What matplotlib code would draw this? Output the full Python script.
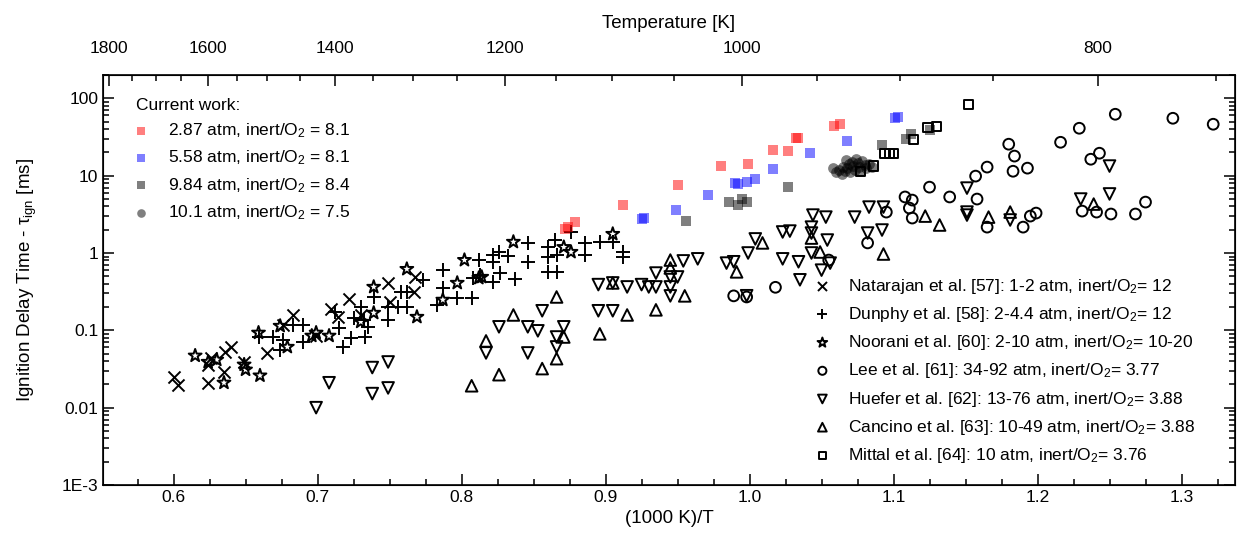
import numpy as np
import matplotlib.pyplot as plt
from matplotlib.ticker import FixedLocator, FixedFormatter, NullFormatter, LogLocator

plt.rcParams['font.family'] = ['Liberation Sans', 'DejaVu Sans']
plt.rcParams['mathtext.default'] = 'regular'

# ---- current work ----
red_x = [0.872, 0.874, 0.879, 0.912, 0.950, 0.980, 0.999, 1.016, 1.027, 1.032, 1.034, 1.059, 1.063]
red_y = [2.05, 2.16, 2.51, 4.16, 7.5, 13.3, 14.1, 21.3, 20.7, 30.5, 30.5, 43.5, 46.2]

blue_x = [0.925, 0.927, 0.949, 0.971, 0.990, 0.992, 0.998, 1.004, 1.016, 1.042, 1.068, 1.101, 1.103]
blue_y = [2.75, 2.85, 3.59, 5.6, 8.1, 7.8, 8.24, 9.0, 12.1, 19.5, 27.9, 56.0, 58.0]

grey_x = [0.956, 0.986, 0.992, 0.995, 0.998, 1.027, 1.092, 1.109, 1.112, 1.125]
grey_y = [2.59, 4.55, 4.16, 4.98, 4.55, 7.1, 24.8, 29.6, 34.3, 38.7]

dark_x = [1.058, 1.060, 1.062, 1.064, 1.065, 1.066, 1.067, 1.068, 1.069, 1.070, 1.071, 1.072,
          1.073, 1.074, 1.075, 1.076, 1.077, 1.078, 1.080, 1.081, 1.083, 1.085]
dark_y = [12.5, 11.0, 12.0, 10.5, 13.0, 11.5, 16.0, 12.5, 14.0, 11.2, 15.0, 13.5,
          12.0, 16.5, 14.5, 12.8, 11.5, 15.5, 13.8, 12.5, 14.2, 13.0]

# ---- literature ----
nat_x = [0.600, 0.603, 0.624, 0.626, 0.624, 0.635, 0.636, 0.640, 0.649, 0.665, 0.683, 0.676,
         0.709, 0.722, 0.714, 0.699, 0.749, 0.750, 0.768, 0.767, 0.730]
nat_y = [0.025, 0.0198, 0.021, 0.044, 0.036, 0.029, 0.053, 0.061, 0.039, 0.051, 0.158, 0.118,
         0.189, 0.255, 0.149, 0.085, 0.41, 0.233, 0.49, 0.314, 0.158]

dun_x = [0.659, 0.669, 0.676, 0.674, 0.683, 0.690, 0.690, 0.715, 0.718, 0.723, 0.733, 0.735,
         0.739, 0.749, 0.749, 0.758, 0.762, 0.756, 0.762, 0.712, 0.730, 0.725, 0.732, 0.787,
         0.787, 0.783, 0.797, 0.773, 0.807, 0.812, 0.822, 0.826, 0.832, 0.822, 0.813, 0.808,
         0.822, 0.827, 0.837, 0.846, 0.846, 0.860, 0.860, 0.860, 0.866, 0.866, 0.865, 0.876,
         0.886, 0.886, 0.896, 0.905, 0.912, 0.912]
dun_y = [0.082, 0.082, 0.075, 0.056, 0.118, 0.118, 0.071, 0.108, 0.061, 0.080, 0.082, 0.111,
         0.27, 0.136, 0.20, 0.314, 0.314, 0.20, 0.20, 0.173, 0.20, 0.145, 0.136, 0.60,
         0.353, 0.21, 0.26, 0.45, 0.26, 0.81, 0.94, 1.03, 0.91, 0.77, 0.52, 0.475,
         0.42, 0.55, 0.46, 1.35, 0.77, 1.19, 0.89, 0.57, 0.57, 0.94, 1.47, 1.87,
         1.35, 0.94, 1.39, 1.39, 1.03, 0.89]

noo_x = [0.615, 0.624, 0.630, 0.635, 0.649, 0.650, 0.660, 0.659, 0.674, 0.679, 0.696, 0.699,
         0.708, 0.739, 0.739, 0.730, 0.762, 0.769, 0.787, 0.797, 0.802, 0.836, 0.812, 0.814,
         0.871, 0.876, 0.905]
noo_y = [0.047, 0.039, 0.0416, 0.021, 0.036, 0.031, 0.026, 0.093, 0.114, 0.061, 0.085, 0.093,
         0.085, 0.364, 0.168, 0.129, 0.62, 0.149, 0.248, 0.41, 0.81, 1.39, 0.475, 0.49,
         1.19, 1.03, 1.76]

lee_x = [0.989, 0.998, 1.018, 1.095, 1.082, 1.055, 1.108, 1.113, 1.111, 1.113, 1.125, 1.139,
         1.157, 1.158, 1.165, 1.180, 1.184, 1.183, 1.193, 1.165, 1.190, 1.195, 1.199, 1.216,
         1.229, 1.254, 1.294, 1.322, 1.237, 1.243, 1.231, 1.241, 1.251, 1.268, 1.275]
lee_y = [0.279, 0.27, 0.36, 3.38, 1.35, 0.81, 5.3, 4.83, 3.81, 2.83, 7.1, 5.3,
         9.86, 4.98, 12.9, 25.5, 17.9, 11.4, 12.5, 2.16, 2.16, 3.0, 3.28, 27.0,
         41.0, 62.2, 55.2, 46.2, 16.3, 19.5, 3.48, 3.38, 3.19, 3.19, 4.55]

hue_x = [0.708, 0.699, 0.738, 0.749, 0.738, 0.749, 0.826, 0.817, 0.846, 0.853, 0.846, 0.856,
         0.871, 0.866, 0.866, 0.895, 0.895, 0.905, 0.915, 0.925, 0.930, 0.935, 0.935, 0.945,
         0.950, 0.945, 0.945, 0.954, 0.964, 0.984, 0.989, 0.905, 1.044, 1.053, 1.073, 1.083,
         1.093, 1.023, 1.028, 1.043, 1.043, 1.054, 1.082, 1.092, 1.004, 0.999, 1.023, 1.034,
         1.043, 1.056, 1.151, 1.151, 1.151, 1.250, 1.250, 1.230, 1.181, 0.998, 1.035, 1.050]
hue_y = [0.021, 0.010, 0.033, 0.039, 0.0152, 0.018, 0.111, 0.051, 0.111, 0.0985, 0.051, 0.179,
         0.111, 0.082, 0.061, 0.39, 0.179, 0.179, 0.364, 0.39, 0.364, 0.364, 0.55, 0.49,
         0.49, 0.364, 0.279, 0.79, 0.84, 0.74, 0.77, 0.41, 3.09, 2.91, 2.91, 3.92,
         3.92, 1.87, 1.92, 2.16, 1.81, 1.47, 1.81, 1.98, 1.52, 1.0, 0.84, 0.77,
         1.0, 0.74, 6.9, 3.38, 3.09, 13.3, 5.8, 4.98, 2.67, 0.28, 0.45, 0.6]

can_x = [0.807, 0.826, 0.817, 0.836, 0.866, 0.856, 0.866, 0.871, 0.896, 0.915, 0.935, 0.945,
         0.945, 0.955, 0.991, 0.905, 1.009, 1.043, 1.049, 1.093, 1.122, 1.132, 1.166, 1.181,
         1.239]
can_y = [0.0192, 0.0267, 0.073, 0.158, 0.27, 0.032, 0.043, 0.082, 0.090, 0.158, 0.184, 0.81,
         0.64, 0.279, 0.57, 0.41, 1.35, 1.56, 1.03, 0.97, 3.0, 2.30, 2.91, 3.38,
         4.29]

mit_x = [1.077, 1.086, 1.094, 1.097, 1.100, 1.114, 1.124, 1.130, 1.152]
mit_y = [11.4, 13.3, 19.5, 19.5, 19.5, 29.6, 42.3, 43.5, 83.7]

cur_labels = ['2.87 atm, inert/O$_2$ = 8.1', '5.58 atm, inert/O$_2$ = 8.1',
              '9.84 atm, inert/O$_2$ = 8.4', '10.1 atm, inert/O$_2$ = 7.5']
lit_labels = ['Natarajan et al. [57]: 1-2 atm, inert/O$_2$= 12',
              'Dunphy et al. [58]: 2-4.4 atm, inert/O$_2$= 12',
              'Noorani et al. [60]: 2-10 atm, inert/O$_2$= 10-20',
              'Lee et al. [61]: 34-92 atm, inert/O$_2$= 3.77',
              'Huefer et al. [62]: 13-76 atm, inert/O$_2$= 3.88',
              'Cancino et al. [63]: 10-49 atm, inert/O$_2$= 3.88',
              'Mittal et al. [64]: 10 atm, inert/O$_2$= 3.76']

y_ticks = [1e-3, 0.01, 0.1, 1, 10, 100]
y_ticklabels = ['1E-3', '0.01', '0.1', '1', '10', '100']
x_ticks = [0.6, 0.7, 0.8, 0.9, 1.0, 1.1, 1.2, 1.3]
t_major = [1800, 1600, 1400, 1200, 1000, 800]
t_minor = [1750, 1700, 1650, 1550, 1500, 1450, 1350, 1300, 1250, 1150, 1100, 1050, 950, 900, 850, 750]

FS = 12.5

fig = plt.figure(figsize=(12.41, 5.46), dpi=100)
ax = fig.add_axes([0.083, 0.1117, 0.912, 0.7509])

# current work
sq = dict(marker='s', s=52, linewidths=0, alpha=0.5, zorder=3)
h1 = ax.scatter(red_x, red_y, color='red', **sq)
h2 = ax.scatter(blue_x, blue_y, color='blue', **sq)
h3 = ax.scatter(grey_x, grey_y, color='black', **sq)
h4 = ax.scatter(dark_x, dark_y, color='black', marker='o', s=60, linewidths=0, alpha=0.5, zorder=3)

# literature (open black markers)
op = dict(facecolors='none', edgecolors='black', linewidths=1.4, zorder=2)
l1 = ax.scatter(nat_x, nat_y, marker='x', s=75, color='black', linewidths=1.4, zorder=2)
l2 = ax.scatter(dun_x, dun_y, marker='+', s=95, color='black', linewidths=1.4, zorder=2)
l3 = ax.scatter(noo_x, noo_y, marker='*', s=95, **op)
l4 = ax.scatter(lee_x, lee_y, marker='o', s=60, **op)
l5 = ax.scatter(hue_x, hue_y, marker='v', s=70, **op)
l6 = ax.scatter(can_x, can_y, marker='^', s=70, **op)
l7 = ax.scatter(mit_x, mit_y, marker='s', s=45, **op)

ax.set_yscale('log')
ax.set_ylim(1e-3, 200)
ax.set_xlim(0.551, 1.337)
ax.yaxis.set_major_locator(FixedLocator(y_ticks))
ax.yaxis.set_major_formatter(FixedFormatter(y_ticklabels))
ax.yaxis.set_minor_locator(LogLocator(base=10, subs=np.arange(2, 10)))
ax.yaxis.set_minor_formatter(NullFormatter())
ax.set_xticks(x_ticks)
ax.set_xticklabels(['%.1f' % v for v in x_ticks])
ax.set_xticks(np.arange(0.575, 1.33, 0.025), minor=True)
ax.tick_params(which='both', direction='in', right=True, top=False, labelsize=FS, width=1.1)
ax.tick_params(which='major', length=8)
ax.tick_params(which='minor', length=4)
for sp in ax.spines.values():
    sp.set_linewidth(1.2)

ax.set_xlabel('(1000 K)/T', fontsize=13.5, labelpad=4)
ax.set_ylabel('Ignition Delay Time - τ$_{ign}$ [ms]', fontsize=13.5, labelpad=16)

# top axis: temperature
ax2 = ax.twiny()
ax2.set_xlim(0.5513, 1.3462)
ax2.set_xticks([1000.0 / t for t in t_major])
ax2.set_xticklabels([str(t) for t in t_major])
ax2.set_xticks([1000.0 / t for t in t_minor], minor=True)
ax2.tick_params(which='both', direction='in', labelsize=FS, width=1.1, pad=14)
ax2.tick_params(which='major', length=8)
ax2.tick_params(which='minor', length=4)
ax2.set_xlabel('Temperature [K]', fontsize=13.5, labelpad=9)

leg1 = ax.legend([h1, h2, h3, h4], cur_labels, title='Current work:', loc='upper left',
                 bbox_to_anchor=(0.029, 0.945), frameon=False, fontsize=FS, title_fontsize=FS,
                 borderpad=0, handlelength=0.6, handletextpad=1.25, labelspacing=0.5,
                 scatterpoints=1, markerscale=0.8, alignment='left', borderaxespad=0)
ax.add_artist(leg1)
ax.legend([l1, l2, l3, l4, l5, l6, l7], lit_labels, loc='upper left',
          bbox_to_anchor=(0.631, 0.508), frameon=False, fontsize=FS,
          borderpad=0, handlelength=0.6, handletextpad=1.2, labelspacing=0.53,
          scatterpoints=1, markerscale=0.75, borderaxespad=0)

fig.savefig('out.png', dpi=100)
